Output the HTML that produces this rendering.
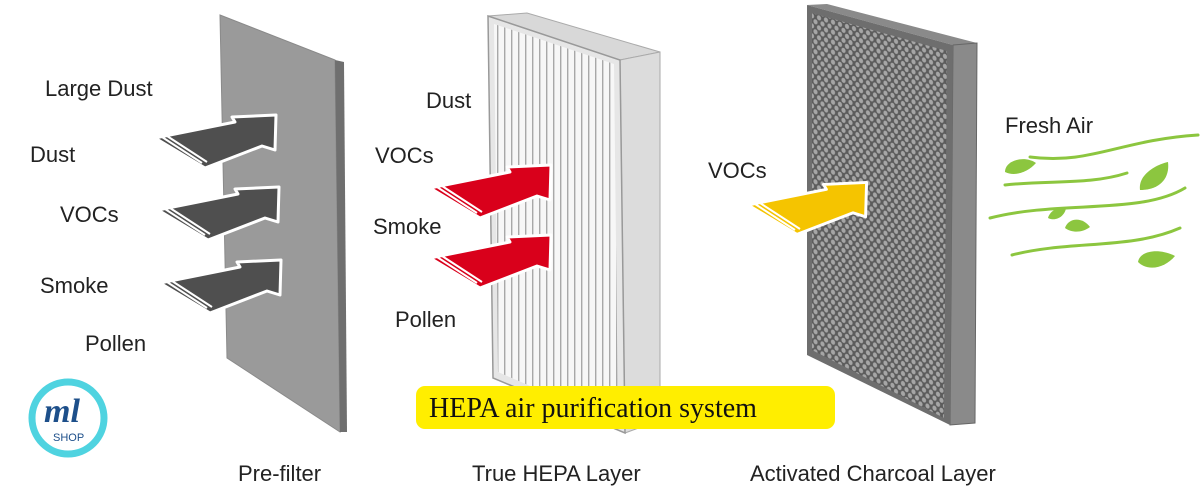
<!DOCTYPE html>
<html><head><meta charset="utf-8"><style>
html,body{margin:0;padding:0;background:#fff;}
svg{display:block;}
text{font-family:"Liberation Sans",sans-serif;fill:#222;}
</style></head><body>
<svg width="1200" height="492" viewBox="0 0 1200 492" xmlns="http://www.w3.org/2000/svg">
<defs>
  <pattern id="hex" width="7" height="10" patternUnits="userSpaceOnUse" patternTransform="skewY(17)">
    <rect width="7" height="10" fill="#5c5c5c"/>
    <ellipse cx="3.5" cy="2.5" rx="2.1" ry="2.5" fill="#a6a6a6"/>
    <ellipse cx="0" cy="7.5" rx="2.1" ry="2.5" fill="#a6a6a6"/>
    <ellipse cx="7" cy="7.5" rx="2.1" ry="2.5" fill="#a6a6a6"/>
  </pattern>
  <pattern id="pleat" width="7" height="10" patternUnits="userSpaceOnUse">
    <rect width="7" height="10" fill="#f7f7f7"/>
    <rect x="0" width="1.4" height="10" fill="#a8a8a8"/>
  </pattern>
  <g id="arrowShape">
    <polygon points="0,0 80,-16 77,-21 121,-23 120,12 107,8 50,30" stroke="#fff" stroke-width="3" stroke-linejoin="round"/>
  </g>
</defs>

<!-- Pre-filter -->
<polygon points="220,15 335,60 340,432 227,358" fill="#9a9a9a" stroke="#8a8a8a" stroke-width="1"/>
<polygon points="335,60 344,62 347,432 340,432" fill="#6f6f6f"/>

<!-- HEPA -->
<polygon points="488,16 527,13 660,52 620,60" fill="#d8d8d8" stroke="#aaa" stroke-width="1"/>
<polygon points="620,60 660,52 660,420 625,433" fill="#dcdcdc" stroke="#aaa" stroke-width="1"/>
<polygon points="488,16 620,60 625,433 493,378" fill="#e6e6e6" stroke="#999" stroke-width="1.5"/>
<polygon points="494,24 614,64 618,424 498,372" fill="url(#pleat)"/>

<!-- Charcoal -->
<polygon points="807,5 827,4 977,43 953,45" fill="#8a8a8a"/>
<polygon points="953,45 977,43 975,423 950,425" fill="#8a8a8a" stroke="#666" stroke-width="1"/>
<polygon points="807,5 953,45 950,425 807,355" fill="#6e6e6e"/>
<polygon points="812,13 947,51 944,418 812,350" fill="url(#hex)"/>

<!-- gray arrows -->
<g fill="#4f4f4f">
  <use href="#arrowShape" transform="translate(155,138)"/>
  <use href="#arrowShape" transform="translate(158,210)"/>
  <use href="#arrowShape" transform="translate(160,283)"/>
</g>
<g fill="#d9001b">
  <use href="#arrowShape" transform="translate(430,188)"/>
  <use href="#arrowShape" transform="translate(430,258)"/>
</g>
<g fill="#f5c400">
  <use href="#arrowShape" transform="translate(748,205) scale(0.98)"/>
</g>
<!-- stripes -->
<defs>
  <g id="str"><line x1="7" y1="-1" x2="47" y2="25"/><line x1="12" y1="-2" x2="52" y2="24"/></g>
</defs>
<g stroke="#fff" stroke-width="2">
  <use href="#str" transform="translate(155,138)"/>
  <use href="#str" transform="translate(158,210)"/>
  <use href="#str" transform="translate(160,283)"/>
  <use href="#str" transform="translate(430,188)"/>
  <use href="#str" transform="translate(430,258)"/>
  <use href="#str" transform="translate(748,205)"/>
</g>

<!-- labels -->
<g font-size="22">
<text x="45" y="96">Large Dust</text>
<text x="30" y="162">Dust</text>
<text x="60" y="222">VOCs</text>
<text x="40" y="293">Smoke</text>
<text x="85" y="351">Pollen</text>
<text x="426" y="108">Dust</text>
<text x="375" y="163">VOCs</text>
<text x="373" y="234">Smoke</text>
<text x="395" y="327">Pollen</text>
<text x="708" y="178">VOCs</text>
<text x="1005" y="133">Fresh Air</text>
<text x="238" y="481">Pre-filter</text>
<text x="472" y="481">True HEPA Layer</text>
<text x="750" y="481">Activated Charcoal Layer</text>
</g>

<!-- wind -->
<g fill="none" stroke="#8cc63f" stroke-width="3" stroke-linecap="round">
<path d="M1030,157 C1090,165 1120,140 1198,135"/>
<path d="M1005,185 C1050,180 1090,185 1127,173"/>
<path d="M990,218 C1060,200 1140,215 1185,188"/>
<path d="M1012,255 C1070,240 1130,250 1180,228"/>
</g>
<g fill="#8cc63f">
<path d="M1005,172 C1005,160 1025,155 1036,163 C1028,172 1015,177 1005,172Z"/>
<path d="M1140,190 C1138,175 1155,165 1168,162 C1170,178 1160,190 1140,190Z"/>
<path d="M1048,218 C1050,210 1060,206 1066,208 C1065,216 1056,222 1048,218Z"/>
<path d="M1065,228 C1068,218 1082,216 1090,227 C1082,233 1072,233 1065,228Z"/>
<path d="M1138,262 C1140,250 1160,248 1175,256 C1165,268 1148,272 1138,262Z"/>
</g>

<!-- banner -->
<rect x="416" y="386" width="419" height="43" rx="9" fill="#ffee00"/>
<text x="429" y="417" font-size="28" style="font-family:'Liberation Serif',serif;fill:#111">HEPA air purification system</text>

<!-- logo -->
<circle cx="68" cy="418" r="38" fill="#fff"/>
<circle cx="68" cy="418" r="36" fill="none" stroke="#4fd3e0" stroke-width="7"/>
<text x="44" y="422" font-size="34" font-style="italic" font-weight="bold" style="font-family:'Liberation Serif',serif;fill:#1d4f8a">ml</text>
<text x="53" y="441" font-size="11" style="fill:#1d4f8a">SHOP</text>
</svg>
</body></html>
